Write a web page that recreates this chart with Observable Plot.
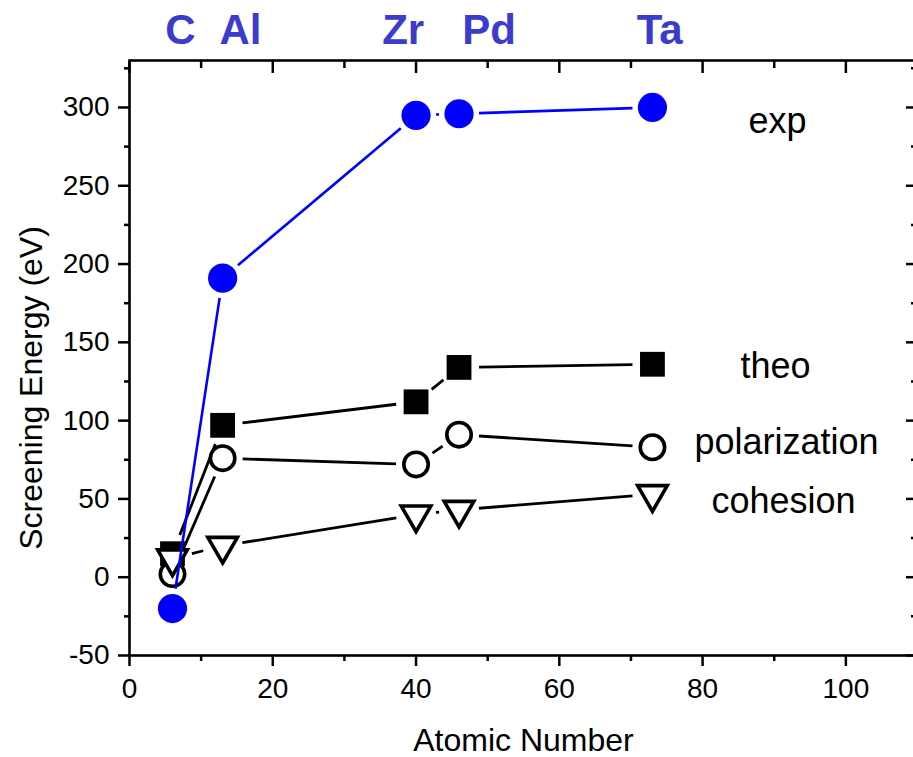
<!DOCTYPE html>
<html>
<head>
<meta charset="utf-8">
<script src="https://cdn.jsdelivr.net/npm/d3@7"></script>
<script src="https://cdn.jsdelivr.net/npm/@observablehq/plot@0.6"></script>
<style>
  body { margin: 0; background: #fff; }
  #chart svg { display: block; }
</style>
</head>
<body>
<div id="chart"></div>
<script>
// Target elements (atomic number) and their symbols shown along the top
const atomicNumber = [6, 13, 40, 46, 73];
const elements = ["C", "Al", "Zr", "Pd", "Ta"];
const elementLabelX = [7.1, 15.5, 38.2, 50.2, 74.0];

// Screening energies (eV)
const expValues = [-20, 191, 295, 296, 300];
const theoValues = [15, 97, 112, 134, 136];
const polarizationValues = [2, 76, 72, 91, 83];
const cohesionValues = [12, 20, 40, 43, 53];

// Axis ticks
const xTicks = [0, 20, 40, 60, 80, 100];
const xMinorTicks = [10, 30, 50, 70, 90];
const yTicks = [-50, 0, 50, 100, 150, 200, 250, 300];
const yMinorTicks = [-25, 25, 75, 125, 175, 225, 275, 325];

// Layout
const W = 913, H = 757;
const mL = 129, mR = -4, mT = 60, mB = 102;
const xDomain = [0, 110], yDomain = [-50, 330];
const kx = (W - mR - mL) / (xDomain[1] - xDomain[0]);   // px per x unit
const ky = (H - mB - mT) / (yDomain[1] - yDomain[0]);   // px per y unit
const GAP = 20; // connecting lines stop this many px short of each point

// Connecting segments that leave a gap around each symbol
function gappedSegments(xs, ys, gap) {
  const segs = [];
  for (let i = 0; i < xs.length - 1; i++) {
    const ddx = xs[i + 1] - xs[i], ddy = ys[i + 1] - ys[i];
    const L = Math.hypot(ddx * kx, ddy * ky);
    if (L <= 2 * gap) continue;
    const t = gap / L;
    segs.push({
      x1: xs[i] + ddx * t, y1: ys[i] + ddy * t,
      x2: xs[i + 1] - ddx * t, y2: ys[i + 1] - ddy * t
    });
  }
  return segs;
}

// Downward-pointing triangle symbol
const triangleDown = {
  draw(context, size) {
    const y = Math.sqrt(size / (3 * Math.sqrt(3)));
    context.moveTo(0, 2 * y);
    context.lineTo(Math.sqrt(3) * y, -y);
    context.lineTo(-Math.sqrt(3) * y, -y);
    context.closePath();
  }
};

const series = [
  {name: "theo", values: theoValues, line: "black", lineWidth: 2.8,
   dot: {symbol: "square", r: 14, fill: "black", stroke: "none"}, labelDx: 123, labelDy: 2},
  {name: "polarization", values: polarizationValues, line: "black", lineWidth: 2.8,
   dot: {symbol: "circle", r: 12.2, fill: "white", stroke: "black", strokeWidth: 3.6}, labelDx: 134, labelDy: -5},
  {name: "cohesion", values: cohesionValues, line: "black", lineWidth: 2.8,
   dot: {symbol: triangleDown, r: 11, fill: "white", stroke: "black", strokeWidth: 3.6}, labelDx: 131, labelDy: 7},
  {name: "exp", values: expValues, line: "#0000ff", lineWidth: 2.6,
   dot: {symbol: "circle", r: 14.6, fill: "#0000ff", stroke: "none"}, labelDx: 125, labelDy: 14}
];

const font = "'Liberation Sans', Arial, Helvetica, sans-serif";
const tickW = 2.5;
const noLabel = () => "";

const marks = [
  // left axis: outward ticks with labels
  Plot.axisY(yTicks, {anchor: "left", tickSize: 11, tickPadding: 9, fontSize: 28,
    strokeWidth: tickW, label: null, tickFormat: d => String(d)}),
  Plot.axisY(yMinorTicks, {anchor: "left", tickSize: 5, strokeWidth: tickW, label: null, tickFormat: noLabel}),
  // right mirror ticks (inward)
  Plot.axisY(yTicks, {anchor: "right", tickSize: -12, strokeWidth: tickW, label: null, tickFormat: noLabel}),
  Plot.axisY(yMinorTicks, {anchor: "right", tickSize: -7, strokeWidth: tickW, label: null, tickFormat: noLabel}),
  // bottom axis: outward ticks with labels
  Plot.axisX(xTicks, {anchor: "bottom", tickSize: 11, tickPadding: 12, fontSize: 28,
    strokeWidth: tickW, label: null, tickFormat: d => String(d)}),
  Plot.axisX(xMinorTicks, {anchor: "bottom", tickSize: 6, strokeWidth: tickW, label: null, tickFormat: noLabel}),
  // top mirror ticks (inward)
  Plot.axisX(xTicks, {anchor: "top", tickSize: -12, strokeWidth: tickW, label: null, tickFormat: noLabel}),
  Plot.axisX(xMinorTicks, {anchor: "top", tickSize: -7, strokeWidth: tickW, label: null, tickFormat: noLabel}),
  Plot.frame({stroke: "black", strokeWidth: 2.6}),
  // element symbols above the frame
  Plot.text(elements, {x: elementLabelX, text: d => d, frameAnchor: "top", dy: -17,
    lineAnchor: "bottom", fontSize: 42, fontWeight: "bold", fill: "#3c3ccc"}),
  // axis titles
  Plot.text(["Atomic Number"], {frameAnchor: "bottom", dy: 95, lineAnchor: "bottom", fontSize: 32}),
  Plot.text(["Screening Energy (eV)"], {frameAnchor: "left", rotate: -90, dx: -110, dy: 30,
    lineAnchor: "top", textAnchor: "middle", fontSize: 32})
];

for (const s of series) {
  marks.push(Plot.link(gappedSegments(atomicNumber, s.values, GAP), {
    x1: "x1", y1: "y1", x2: "x2", y2: "y2", stroke: s.line, strokeWidth: s.lineWidth
  }));
  marks.push(Plot.dot(atomicNumber.map((x, i) => ({x, y: s.values[i]})), {
    x: "x", y: "y", ...s.dot
  }));
  const last = atomicNumber.length - 1;
  marks.push(Plot.text([s.name], {
    x: [atomicNumber[last]], y: [s.values[last]], text: d => d,
    dx: s.labelDx, dy: s.labelDy, textAnchor: "middle", lineAnchor: "middle", fontSize: 36
  }));
}

const chart = Plot.plot({
  width: W, height: H,
  marginLeft: mL, marginRight: mR, marginTop: mT, marginBottom: mB,
  style: {fontFamily: font, background: "white", color: "black", overflow: "hidden"},
  x: {domain: xDomain, axis: null},
  y: {domain: yDomain, axis: null},
  marks
});
document.getElementById("chart").append(chart);
</script>
</body>
</html>
